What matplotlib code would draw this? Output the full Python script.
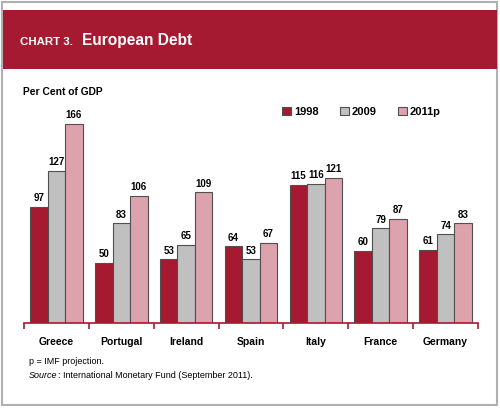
import matplotlib.pyplot as plt
import numpy as np
from matplotlib.patches import Rectangle
from matplotlib import font_manager

countries = ["Greece", "Portugal", "Ireland", "Spain", "Italy", "France", "Germany"]
years = ["1998", "2009", "2011p"]
debt_1998 = [97, 50, 53, 64, 115, 60, 61]
debt_2009 = [127, 83, 65, 53, 116, 79, 74]
debt_2011 = [166, 106, 109, 67, 121, 87, 83]

RED = "#A51A30"
colors = [RED, "#C0C0C0", "#DDA3AD"]
EDGE = "#505050"

plt.rcParams['font.family'] = ['Liberation Sans', 'DejaVu Sans']

# narrow font for the header if present, otherwise a smaller regular one
names = {f.name for f in font_manager.fontManager.ttflist}
if "Liberation Sans Narrow" in names:
    head_fam, k = ["Liberation Sans Narrow"], 1.0
else:
    head_fam, k = ["Liberation Sans"], 0.86

fig = plt.figure(figsize=(5, 4.08), dpi=100)
W, H = 500, 408

def fx(px):
    return px / W

def fy(py):
    return 1 - py / H

# outer frame
fig.patches.append(Rectangle((fx(2), fy(405)), fx(495), 403 / H, transform=fig.transFigure,
                             fill=False, edgecolor="#B0B0B0", linewidth=1.5))
# header band
fig.patches.append(Rectangle((fx(3), fy(69)), fx(494), 59 / H, transform=fig.transFigure,
                             facecolor=RED, edgecolor="none"))
fig.text(fx(20), fy(42), "CHART 3.", color="white", fontsize=9.6 * k, fontweight="bold",
         family=head_fam, va="center")
fig.text(fx(82), fy(41), "European Debt", color="white", fontsize=13 * k, fontweight="bold",
         family=head_fam, va="center")

ax = fig.add_axes([fx(24), fy(323), fx(454), 238 / H])
x = np.arange(len(countries))
w = 0.27
series = [debt_1998, debt_2009, debt_2011]
for i, vals in enumerate(series):
    pos = x + (i - 1) * w
    ax.bar(pos, vals, width=w, color=colors[i], edgecolor=EDGE, linewidth=0.8, label=years[i])
    for p, v in zip(pos, vals):
        ax.text(p, v + 3, str(v), ha="center", va="bottom", fontsize=7, fontweight="bold")

ax.set_xlim(-0.5, len(countries) - 0.5)
ax.set_ylim(0, 198.3)
ax.set_yticks([])
for s in ["left", "right", "top"]:
    ax.spines[s].set_visible(False)
ax.spines["bottom"].set_color(RED)
ax.spines["bottom"].set_linewidth(1.2)
ax.set_xticks(np.arange(-0.5, len(countries)), minor=False)
ax.set_xticklabels([])
ax.tick_params(axis="x", length=4, color=RED, width=1.2, direction="out")
ax.set_xticks(x, minor=True)
ax.set_xticklabels(countries, minor=True, fontsize=7.5, fontweight="bold")
ax.tick_params(axis="x", which="minor", length=0, pad=10)

leg = ax.legend(loc="upper left", bbox_to_anchor=(0.553, 0.937), ncol=3, frameon=False,
                prop={"weight": "bold", "size": 8}, handlelength=0.8, handleheight=0.8,
                columnspacing=1.9, handletextpad=0.3, borderaxespad=0.2)

fig.text(fx(23), fy(92), "Per Cent of GDP", fontsize=7.4, fontweight="bold", va="center")
fig.text(fx(29), fy(361), "p = IMF projection.", fontsize=6.5, va="center")
src = fig.text(fx(29), fy(375), "Source", fontsize=6.5, style="italic", va="center")
r = fig.canvas.get_renderer()
bb = src.get_window_extent(renderer=r)
fig.text(bb.x1 / W, fy(375), ": International Monetary Fund (September 2011).", fontsize=6.5,
         va="center")

fig.savefig("out.png", dpi=100)
